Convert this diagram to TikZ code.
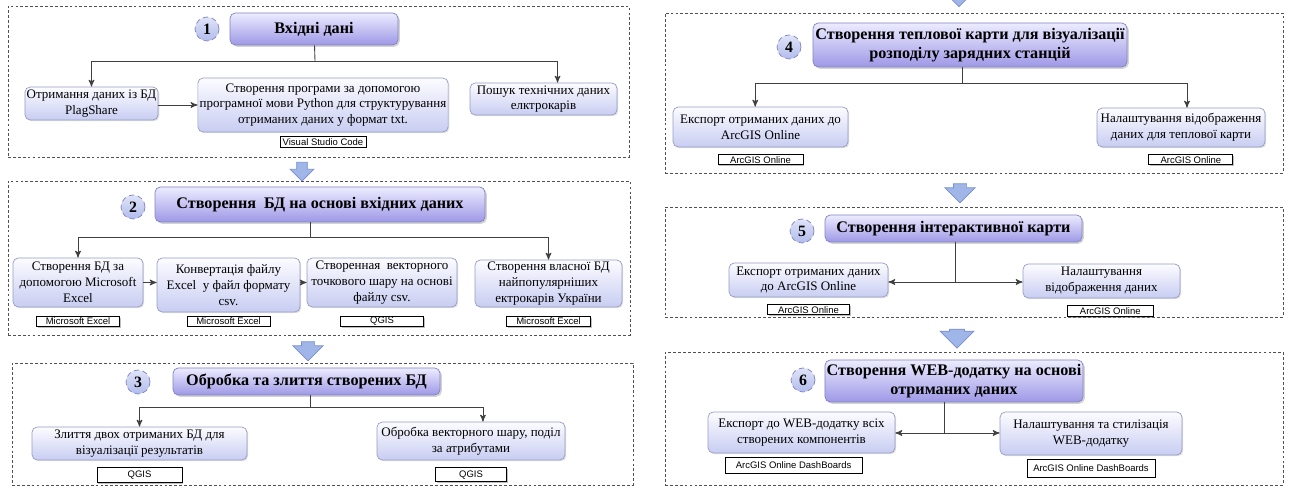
\documentclass[tikz,border=0pt]{standalone}
\usepackage{fontspec}
\setmainfont{Liberation Serif}
\setsansfont{Liberation Sans}
\usetikzlibrary{arrows,shapes.arrows,shadows,positioning}

\definecolor{boxtop}{RGB}{252,252,255}
\definecolor{boxbot}{RGB}{200,205,242}
\definecolor{boxline}{RGB}{150,156,196}
\definecolor{titletop}{RGB}{236,236,255}
\definecolor{titlebot}{RGB}{158,152,230}
\definecolor{titleline}{RGB}{130,130,196}
\definecolor{numfill}{RGB}{176,188,236}
\definecolor{arrowfill}{RGB}{160,182,232}
\definecolor{arrowline}{RGB}{118,142,208}
\definecolor{panelline}{RGB}{80,80,92}

\begin{document}
\begin{tikzpicture}[x=0.2mm,y=-0.2mm,>=stealth',node distance=3pt,
  wh/.style 2 args={minimum width=#1*0.2mm,minimum height=#2*0.2mm},
  panel node/.style={draw=panelline,line width=0.5pt,dash pattern=on 1.6pt off 1.2pt,inner sep=0pt},
  title node/.style={draw=titleline,rounded corners=3pt,top color=titletop,bottom color=titlebot,
    drop shadow={shadow xshift=1pt,shadow yshift=-1pt,opacity=0.35},align=center,inner sep=1pt,
    font=\fontsize{9.2}{11}\selectfont\bfseries},
  num node/.style={circle,draw=titleline,densely dashed,top color=white!60!numfill,bottom color=numfill,
    inner sep=0pt,minimum size=24*0.2mm,font=\fontsize{9}{10}\selectfont\bfseries},
  step node/.style={draw=boxline,rounded corners=3pt,top color=boxtop,bottom color=boxbot,
    drop shadow={shadow xshift=0.7pt,shadow yshift=-0.7pt,opacity=0.25},align=center,inner sep=1pt,
    font=\fontsize{7.4}{9}\selectfont},
  tool node/.style={draw=black,fill=white,line width=0.5pt,inner sep=0pt,
    drop shadow={shadow xshift=0.6pt,shadow yshift=-0.6pt,opacity=0.5},font=\fontsize{5.4}{6}\sffamily},
  big arrow/.style={single arrow,draw=arrowline,fill=arrowfill,rotate=-90,inner sep=2pt,
    single arrow head extend=2.8pt,single arrow tip angle=90},
  link/.style={->,draw=black!75,line width=0.5pt},
  line/.style={draw=black!75,line width=0.5pt}]
  \useasboundingbox (0,0) rectangle (1290,489);
  \clip (0,0) rectangle (1290,489);

  \node[panel node,wh={621}{151}] (p1) at (318.5,81.5) {};
  \node[num node] (n1) at (207,29) {1};
  \node[title node,wh={168}{32}] (t1) at (314,29) {Вхідні дані};
  \coordinate (j1) at (315,61);
  \node[step node,wh={133}{33}] (a1) at (91.5,103.5) {Отримання даних із БД\\PlagShare};
  \node[step node,wh={250}{54}] (a2) at (323,105) {Створення програми за допомогою\\програмної мови Python для структурування\\отриманих даних у формат txt.};
  \node[step node,wh={147}{32}] (a3) at (543.5,99) {Пошук технічних даних\\елктрокарів};
  \node[tool node,wh={86}{11},below=2pt of a2] (l2) {Visual Studio Code};
  \draw[line] (t1) -- (j1);
  \draw[link] (j1) -| (a1);
  \draw[link] (j1) -| ([xshift=8pt]a3.north);
  \draw[link] (a1.east |- a2.west) -- (a2.west);

  \node[big arrow,wh={24}{19}] (s12) at (302,169) {};

  \node[panel node,wh={622}{154}] (p2) at (319,258) {};
  \node[num node] (n2) at (133,207) {2};
  \node[title node,wh={330}{35}] (t2) at (320,204.5) {Створення\ \ БД на основі вхідних даних};
  \coordinate (j2) at (310,237);
  \node[step node,wh={130}{49}] (b1) at (78,282.5) {Створення БД за\\допомогою Microsoft\\Excel};
  \node[step node,wh={143}{54}] (b2) at (228.5,285) {Конвертація файлу\\Excel\ \ у файл формату\\csv.};
  \node[step node,wh={150}{49}] (b3) at (382,282.5) {Створенная\ \ векторного\\точкового шару на основі\\файлу csv.};
  \node[step node,wh={147}{47}] (b4) at (548.5,283.5) {Створення власної БД\\найпопулярніших\\ектрокарів України};
  \node[tool node,wh={83}{10},below=5pt of b1] (lb1) {Microsoft Excel};
  \node[tool node,wh={83}{10},below=2pt of b2] (lb2) {Microsoft Excel};
  \node[tool node,wh={83}{10},below=5pt of b3] (lb3) {QGIS};
  \node[tool node,wh={84}{10},below=5pt of b4] (lb4) {Microsoft Excel};
  \draw[line] (t2.south -| j2) -- (j2);
  \draw[link] (j2) -| (b1);
  \draw[link] (j2) -| (b4);
  \draw[link] (b1.east) -- (b1.east -| b2.west);
  \draw[link] (b2.east |- b3.west) -- (b3.west);

  \node[big arrow,wh={30}{19}] (s23) at (308,348) {};

  \node[panel node,wh={621}{122}] (p3) at (322.5,424) {};
  \node[num node] (n3) at (138,382) {3};
  \node[title node,wh={267}{27}] (t3) at (306.5,381.5) {Обробка та злиття створених БД};
  \coordinate (j3) at (310,407);
  \node[step node,wh={215}{33}] (c1) at (139.5,443.5) {Злиття двох отриманих БД для\\візуалізації результатів};
  \node[step node,wh={188}{38}] (c2) at (471,441) {Обробка векторного шару, поділ\\за атрибутами};
  \node[tool node,wh={85}{15},below=4pt of c1] (lc1) {QGIS};
  \node[tool node,wh={71}{14},below=4pt of c2] (lc2) {QGIS};
  \draw[line] (t3.south -| j3) -- (j3);
  \draw[link] (j3) -| (c1);
  \draw[link] (j3) -| ([xshift=6.8pt]c2.north);

  \node[big arrow,wh={28}{19}] (s34) at (959,-6) {};

  \node[panel node,wh={618}{160}] (p4) at (974,93) {};
  \node[num node] (n4) at (789,47) {4};
  \node[title node,wh={314}{44}] (t4) at (970,45) {Створення теплової карти для візуалізації\\розподілу зарядних станцій};
  \coordinate (j4) at (962,83);
  \node[step node,wh={175}{40}] (d1) at (760.5,127) {Експорт отриманих даних до\\ArcGIS Online};
  \node[step node,wh={168}{39}] (d2) at (1181,127.5) {Налаштування відображення\\даних для теплової карти};
  \node[tool node,wh={85}{10},below=4pt of d1] (ld1) {ArcGIS Online};
  \node[tool node,wh={84}{10},below=4pt of d2,xshift=5.6pt] (ld2) {ArcGIS Online};
  \draw[line] (t4.south -| j4) -- (j4);
  \draw[link] (j4) -| ([xshift=-3pt]d1.north);
  \draw[link] (j4) -| ([xshift=3.4pt]d2.north);

  \node[big arrow,wh={30}{19}] (s45) at (960,190) {};

  \node[panel node,wh={618}{110}] (p5) at (974,262) {};
  \node[num node] (n5) at (802,231) {5};
  \node[title node,wh={257}{27}] (t5) at (953.5,228.5) {Створення інтерактивної карти};
  \coordinate (j5) at (955,282);
  \node[step node,wh={159}{34}] (e1) at (808.5,280) {Експорт отриманих даних\\до ArcGIS Online};
  \node[step node,wh={157}{34}] (e2) at (1101.5,281) {Налаштування\\відображення даних};
  \node[tool node,wh={82}{10},below=4pt of e1] (le1) {ArcGIS Online};
  \node[tool node,wh={86}{11},below=4pt of e2,xshift=5pt] (le2) {ArcGIS Online};
  \draw[line] (t5.south -| j5) -- (j5);
  \draw[link] (j5) -- (j5 -| e1.east);
  \draw[link] (j5) -- (j5 -| e2.west);

  \node[big arrow,wh={34}{19}] (s56) at (957,335) {};

  \node[panel node,wh={618}{133}] (p6) at (974,418.5) {};
  \node[num node] (n6) at (803,380) {6};
  \node[title node,wh={258}{42}] (t6) at (954,381) {Створення WEB-додатку на основі\\отриманих даних};
  \coordinate (j6) at (944,433);
  \node[step node,wh={187}{41}] (f1) at (801.5,432.5) {Експорт до WEB-додатку всіх\\створених компонентів};
  \node[step node,wh={182}{43}] (f2) at (1091,433.5) {Налаштування та стилізація\\WEB-додатку};
  \node[tool node,wh={137}{16},below=2pt of f1,xshift=-4.5pt] (lf1) {ArcGIS Online DashBoards};
  \node[tool node,wh={128}{18},below=2pt of f2] (lf2) {ArcGIS Online DashBoards};
  \draw[line] (t6.south -| j6) -- (j6);
  \draw[link] (j6) -- (j6 -| f1.east);
  \draw[link] (j6) -- (j6 -| f2.west);
\end{tikzpicture}
\end{document}
